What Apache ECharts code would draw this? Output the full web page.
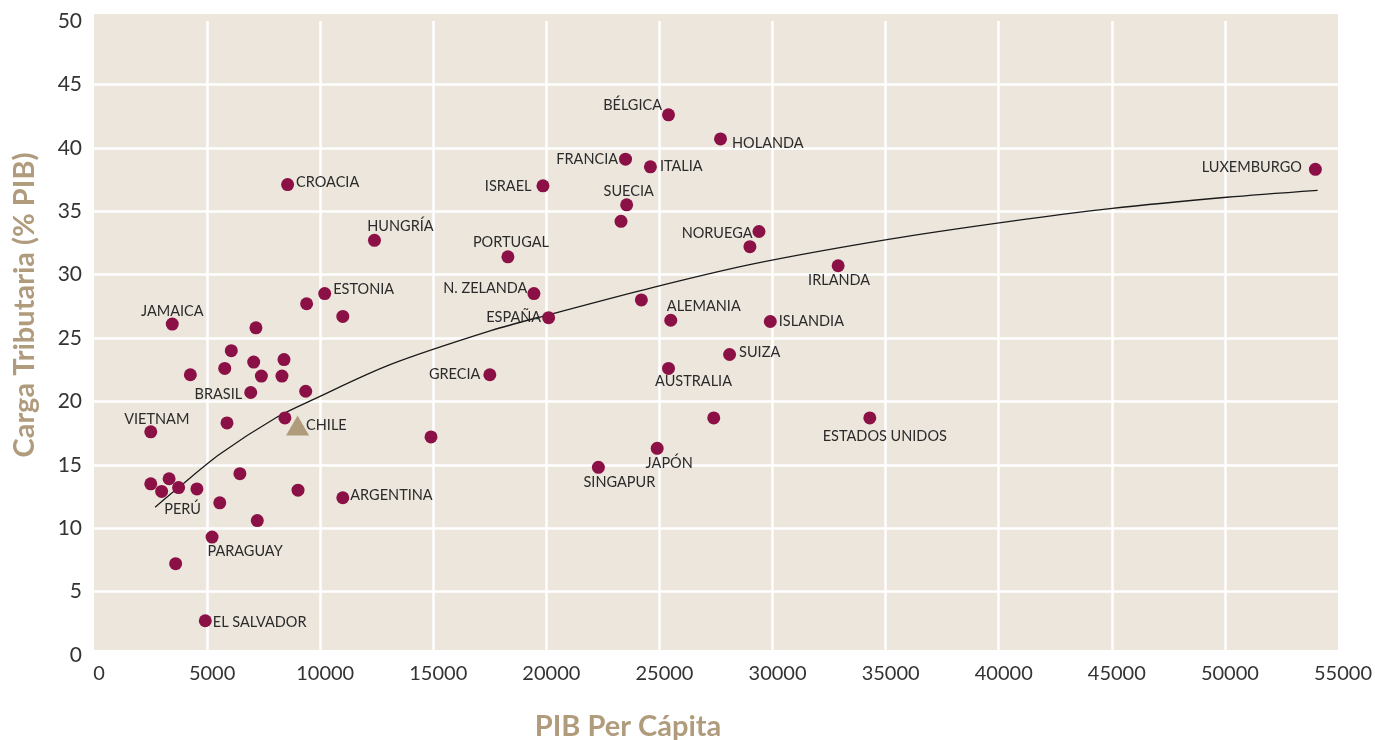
<!DOCTYPE html>
<html>
<head>
<meta charset="utf-8">
<title>Carga tributaria vs PIB per cápita</title>
<script src="https://cdn.jsdelivr.net/npm/echarts@6.0.0/dist/echarts.min.js"></script>
<style>
	html, body { margin: 0; padding: 0; background: #ffffff; }
	#main { width: 1375px; height: 740px; }
</style>
</head>
<body>
<div id="main"></div>
<script>
// datos ('' = punto sin etiqueta)
var countries = ['LUXEMBURGO','BÉLGICA','HOLANDA','FRANCIA','ITALIA','ISRAEL','CROACIA','SUECIA','','NORUEGA',
	'','HUNGRÍA','PORTUGAL','IRLANDA','N. ZELANDA','ESTONIA','','','ESPAÑA','ALEMANIA',
	'ISLANDIA','','JAMAICA','','SUIZA','AUSTRALIA','GRECIA','','','',
	'','','','','BRASIL','','','','VIETNAM','',
	'','ESTADOS UNIDOS','JAPÓN','SINGAPUR','','','','','PERÚ','',
	'','ARGENTINA','','','PARAGUAY','','EL SALVADOR'];
var gdpPerCapita = [54000,25400,27700,23500,24600,19850,8560,23550,23300,29400,
	29000,12400,18300,32900,19450,10200,9400,24200,20100,25500,
	29900,11000,3460,7160,28100,25400,17500,6070,7060,8400,
	5780,4260,7400,8310,6930,9360,8440,5880,2510,14900,
	27400,34300,24900,22300,6450,3320,2510,2990,3740,4550,
	9020,11000,5560,7220,5220,3610,4920];
var taxBurden = [38.3,42.6,40.7,39.1,38.5,37.0,37.1,35.5,34.2,33.4,
	32.2,32.7,31.4,30.7,28.5,28.5,27.7,28.0,26.6,26.4,
	26.3,26.7,26.1,25.8,23.7,22.6,22.1,24.0,23.1,23.3,
	22.6,22.1,22.0,22.0,20.7,20.8,18.7,18.3,17.6,17.2,
	18.7,18.7,16.3,14.8,14.3,13.9,13.5,12.9,13.2,13.1,
	13.0,12.4,12.0,10.6,9.3,7.2,2.7];

var chileGdp = [9000];
var chileTax = [18.1];

// linea de tendencia
var trendGdp = [2700,3800,5570,8080,9630,13090,17580,20130,24730,29150,35190,40500,44920,50080,54100];
var trendTax = [11.65,13.3,15.85,18.75,20.1,22.9,25.6,26.85,29.0,30.85,32.8,34.2,35.2,36.1,36.65];

var xTicks = [0,5000,10000,15000,20000,25000,30000,35000,40000,45000,50000,55000];
var yTicks = [0,5,10,15,20,25,30,35,40,45,50];

var wine = '#8b1045';
var tan = '#b09c7d';
var bg = '#ece6dd';

// donde va cada etiqueta
var labelPlace = {
	'LUXEMBURGO': {position:'left', distance:7, offset:[0,-2]},
	'BÉLGICA': {position:'left', distance:0, offset:[0,-10]},
	'HOLANDA': {position:'right', distance:5, offset:[0,4]},
	'FRANCIA': {position:'left', distance:1, offset:[0,0]},
	'ITALIA': {position:'right', distance:3, offset:[0,0]},
	'ISRAEL': {position:'left', distance:5, offset:[0,0]},
	'CROACIA': {position:'right', distance:2, offset:[0,-2]},
	'SUECIA': {position:'top', distance:0, offset:[2,0]},
	'NORUEGA': {position:'left', distance:0, offset:[0,2]},
	'HUNGRÍA': {position:'top', distance:0, offset:[26,0]},
	'PORTUGAL': {position:'top', distance:1, offset:[3,0]},
	'IRLANDA': {position:'bottom', distance:1, offset:[1,0]},
	'N. ZELANDA': {position:'left', distance:0, offset:[0,-5]},
	'ESTONIA': {position:'right', distance:2, offset:[0,-4]},
	'ESPAÑA': {position:'left', distance:1, offset:[0,0]},
	'ALEMANIA': {position:'top', distance:0, offset:[33,0]},
	'ISLANDIA': {position:'right', distance:2, offset:[0,0]},
	'JAMAICA': {position:'top', distance:0, offset:[0,1]},
	'SUIZA': {position:'right', distance:3, offset:[0,-2]},
	'AUSTRALIA': {position:'bottom', distance:0, offset:[25,-1]},
	'GRECIA': {position:'left', distance:3, offset:[0,0]},
	'BRASIL': {position:'left', distance:2, offset:[0,2]},
	'VIETNAM': {position:'top', distance:0, offset:[6,1]},
	'ESTADOS UNIDOS': {position:'bottom', distance:4, offset:[15,0]},
	'JAPÓN': {position:'bottom', distance:1, offset:[12,0]},
	'SINGAPUR': {position:'bottom', distance:1, offset:[21,0]},
	'PERÚ': {position:'bottom', distance:8, offset:[4,0]},
	'ARGENTINA': {position:'right', distance:1, offset:[0,-2]},
	'PARAGUAY': {position:'bottom', distance:0, offset:[33,0]},
	'EL SALVADOR': {position:'right', distance:1, offset:[0,2]}
};

var points = [];
for (var i = 0; i < countries.length; i++) {
	var item = { name: countries[i], value: [gdpPerCapita[i], taxBurden[i]] };
	var lp = labelPlace[countries[i]];
	if (lp) {
		item.label = { show: true, position: lp.position, distance: lp.distance, offset: lp.offset };
	}
	points.push(item);
}

var trend = [];
for (var j = 0; j < trendGdp.length; j++) {
	trend.push([trendGdp[j], trendTax[j]]);
}

var chart = echarts.init(document.getElementById('main'), null, { renderer: 'canvas' });

var option = {
	animation: false,
	backgroundColor: '#ffffff',
	// fondo beige del area
	graphic: [{
		type: 'rect',
		z: -10,
		silent: true,
		shape: { x: 94, y: 14, width: 1244, height: 636 },
		style: { fill: bg }
	}],
	grid: {
		left: 94,
		right: 37,
		top: 21,
		bottom: 85,
		containLabel: false,
		outerBoundsMode: 'none'
	},
	xAxis: {
		type: 'value',
		min: xTicks[0],
		max: xTicks[xTicks.length - 1],
		interval: 5000,
		name: 'PIB Per Cápita',
		nameLocation: 'middle',
		nameGap: 57,
		nameTextStyle: { color: tan, fontFamily: 'Lato', fontWeight: 'bold', fontSize: 29, padding: [0, 176, 0, 0] },
		axisLine: { show: false },
		axisTick: { show: false },
		axisLabel: {
			color: '#333333', fontFamily: 'Lato', fontSize: 20, margin: 9, padding: [0, 0, 0, 10],
			formatter: function (v) { return String(v); }
		},
		splitLine: { show: true, showMinLine: false, showMaxLine: false, lineStyle: { color: '#ffffff', width: 2.5 } }
	},
	yAxis: {
		type: 'value',
		min: yTicks[0],
		max: yTicks[yTicks.length - 1],
		interval: 5,
		name: 'Carga Tributaria (% PIB)',
		nameLocation: 'middle',
		nameGap: 55,
		nameTextStyle: { color: tan, fontFamily: 'Lato', fontWeight: 'bold', fontSize: 29, padding: [0, 0, 0, 66] },
		axisLine: { show: false },
		axisTick: { show: false },
		axisLabel: { color: '#333333', fontFamily: 'Lato', fontSize: 21, margin: 12 },
		splitLine: { show: true, showMinLine: false, showMaxLine: false, lineStyle: { color: '#ffffff', width: 2.5 } }
	},
	series: [
		{
			name: 'tendencia',
			type: 'line',
			data: trend,
			smooth: 0.3,
			showSymbol: false,
			silent: true,
			z: 3,
			lineStyle: { color: '#1a1a1a', width: 1.3 }
		},
		{
			name: 'paises',
			type: 'scatter',
			data: points,
			symbol: 'circle',
			symbolSize: 13,
			z: 4,
			itemStyle: { color: wine, opacity: 1 },
			label: {
				show: false,
				formatter: '{b}',
				color: '#2b2b2b',
				fontFamily: 'Lato',
				fontSize: 14.5
			}
		},
		{
			name: 'Chile',
			type: 'scatter',
			data: [{ name: 'CHILE', value: [chileGdp[0], chileTax[0]] }],
			symbol: 'triangle',
			symbolSize: [23, 20],
			z: 5,
			itemStyle: { color: tan, opacity: 1 },
			label: {
				show: true,
				position: 'right',
				distance: 0,
				offset: [-3, 0],
				formatter: '{b}',
				color: '#2b2b2b',
				fontFamily: 'Lato',
				fontSize: 14.5
			}
		}
	]
};

chart.setOption(option);
</script>
</body>
</html>
